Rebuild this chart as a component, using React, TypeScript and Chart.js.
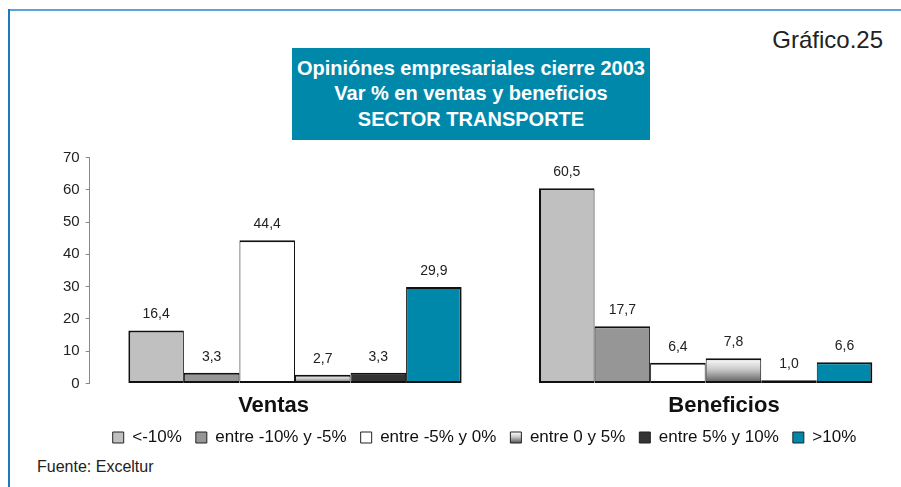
import React, { useEffect, useRef } from "react";
import { Chart, registerables } from "chart.js";

Chart.register(...registerables);

const FONT = "'Liberation Sans', Arial, Helvetica, sans-serif";

const categories = ["Ventas", "Beneficios"];
const seriesNames = [
  "<-10%",
  "entre -10% y -5%",
  "entre -5% y 0%",
  "entre 0 y 5%",
  "entre 5% y 10%",
  ">10%",
];
const lessThanMinus10 = [16.4, 60.5];
const minus10ToMinus5 = [3.3, 17.7];
const minus5To0 = [44.4, 6.4];
const zeroTo5 = [2.7, 7.8];
const fiveTo10 = [3.3, 1.0];
const moreThan10 = [29.9, 6.6];
const seriesValues = [lessThanMinus10, minus10ToMinus5, minus5To0, zeroTo5, fiveTo10, moreThan10];
const seriesColors = ["#c0c0c0", "#969696", "#ffffff", null, "#333333", "#0088aa"];
const yMin = 0;
const yMax = 70;
const yStep = 10;

const GRADIENT_INDEX = 3;
const LEGEND_PAD = 14;

function makeGradient(ctx: CanvasRenderingContext2D, top: number, bottom: number) {
  const g = ctx.createLinearGradient(0, top, 0, bottom);
  g.addColorStop(0, "#ffffff");
  g.addColorStop(0.45, "#c8c8c8");
  g.addColorStop(1, "#555555");
  return g;
}

const fmt = (v: number) => v.toFixed(1).replace(".", ",");

const valueLabels = {
  id: "valueLabels",
  afterDatasetsDraw(chart: any) {
    const ctx = chart.ctx;
    ctx.save();
    ctx.font = `14px ${FONT}`;
    ctx.fillStyle = "#222222";
    ctx.textAlign = "center";
    ctx.textBaseline = "middle";
    chart.data.datasets.forEach((ds: any, i: number) => {
      const meta = chart.getDatasetMeta(i);
      meta.data.forEach((el: any, j: number) => {
        ctx.fillText(fmt(ds.data[j]), el.x, el.y - 16);
      });
    });
    ctx.restore();
  },
};

export default function App() {
  const ref = useRef<HTMLCanvasElement | null>(null);

  useEffect(() => {
    if (!ref.current) return;
    const datasets = seriesNames.map((name, i) => ({
      label: name,
      data: seriesValues[i],
      backgroundColor:
        i === GRADIENT_INDEX
          ? (c: any) => {
              const chart = c.chart;
              if (!chart.chartArea || c.type !== "data") return "#bbbbbb";
              const y = chart.scales.y;
              return makeGradient(chart.ctx, y.getPixelForValue(c.parsed.y), y.getPixelForValue(0));
            }
          : seriesColors[i],
      borderColor: "#111111",
      borderWidth: {
        top: 2,
        bottom: 2,
        left: i === 0 ? 2 : 1,
        right: i === seriesNames.length - 1 ? 2 : 1,
      },
      borderSkipped: false,
    }));

    const chart = new Chart(ref.current, {
      type: "bar",
      data: { labels: categories, datasets },
      options: {
        responsive: false,
        animation: false,
        devicePixelRatio: 1,
        layout: { padding: { top: 157.5, left: 0, right: 0, bottom: 0 } },
        datasets: {
          bar: { barPercentage: 1, categoryPercentage: 0.8116 },
        },
        scales: {
          x: {
            grid: { display: false, drawTicks: false },
            border: { display: false },
            ticks: {
              padding: 9,
              maxRotation: 0,
              autoSkip: false,
              color: "#111111",
              font: { size: 22, weight: "bold", family: FONT },
              callback: (_v: any, idx: number) =>
                idx === 0 ? categories[idx] + " ".repeat(7) : " ".repeat(6) + categories[idx],
            },
            afterFit: (s: any) => {
              s.height = 31.5;
            },
          },
          y: {
            min: yMin,
            max: yMax,
            ticks: {
              stepSize: yStep,
              padding: 6,
              color: "#222222",
              font: { size: 15, family: FONT },
            },
            grid: { drawOnChartArea: false, drawTicks: true, tickLength: 4, color: "#888888" },
            border: { display: true, color: "#888888", width: 1 },
            afterFit: (s: any) => {
              s.width = 31.65;
            },
          },
        },
        plugins: {
          tooltip: { enabled: false },
          legend: {
            position: "bottom",
            labels: {
              boxWidth: 11,
              boxHeight: 11,
              padding: LEGEND_PAD,
              color: "#111111",
              font: { size: 17, family: FONT },
              generateLabels: (ch: any) => {
                const lg = ch.legend;
                const top = lg && lg.top ? lg.top : 415;
                const boxTop = top + LEGEND_PAD + 3;
                return ch.data.datasets.map((ds: any, i: number) => ({
                  text: ds.label,
                  fillStyle:
                    i === GRADIENT_INDEX ? makeGradient(ch.ctx, boxTop, boxTop + 11) : seriesColors[i],
                  strokeStyle: "#222222",
                  lineWidth: 1,
                  hidden: false,
                  datasetIndex: i,
                  fontColor: "#111111",
                }));
              },
            },
          },
        },
      },
      plugins: [valueLabels],
    } as any);
    return () => chart.destroy();
  }, []);

  return (
    <div
      style={{
        position: "absolute",
        left: 0,
        top: 0,
        width: 901,
        height: 487,
        overflow: "hidden",
        background: "#ffffff",
        fontFamily: FONT,
      }}
    >
      <div style={{ position: "absolute", left: 8, top: 9, width: 893, height: 2, background: "#5aa6d6" }} />
      <div style={{ position: "absolute", left: 8, top: 9, width: 2, height: 478, background: "#1f7ab8" }} />
      <div
        style={{
          position: "absolute",
          left: 740,
          top: 26,
          width: 143,
          textAlign: "right",
          fontSize: 24,
          lineHeight: "28px",
          color: "#222222",
        }}
      >
        Gráfico.25
      </div>
      <div
        style={{
          position: "absolute",
          left: 292,
          top: 48,
          width: 358,
          height: 92,
          background: "#0088ab",
          color: "#ffffff",
          fontWeight: "bold",
          fontSize: 20,
          lineHeight: "25.5px",
          textAlign: "center",
          display: "flex",
          flexDirection: "column",
          justifyContent: "center",
        }}
      >
        <div>Opiniónes empresariales cierre 2003</div>
        <div>Var % en ventas y beneficios</div>
        <div>SECTOR TRANSPORTE</div>
      </div>
      <canvas
        ref={ref}
        width={853}
        height={456}
        style={{ position: "absolute", left: 58, top: 0, width: 853, height: 456 }}
      />
      <div
        style={{
          position: "absolute",
          left: 37,
          top: 458,
          fontSize: 16,
          lineHeight: "18px",
          color: "#222222",
        }}
      >
        Fuente: Exceltur
      </div>
    </div>
  );
}
